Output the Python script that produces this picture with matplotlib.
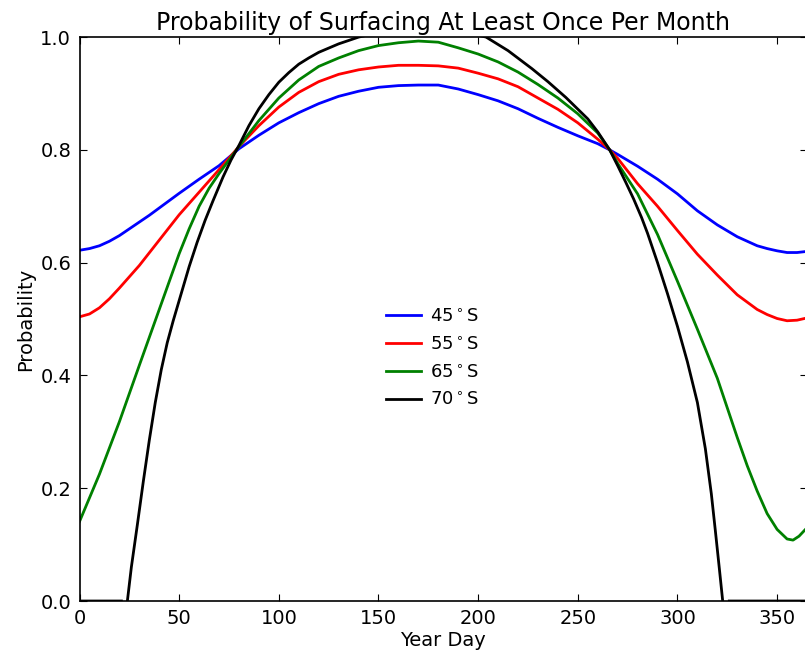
import numpy as np
import matplotlib
matplotlib.use('Agg')
import matplotlib.pyplot as plt

# 45S readings
d45 = [0, 5, 10, 15, 20, 25, 30, 35, 40, 50, 60, 70, 80, 90, 100, 110, 120,
       130, 140, 150, 160, 170, 180, 190, 200, 210, 220, 230, 240, 250, 260,
       266, 270, 280, 290, 300, 310, 320, 330, 340, 345, 350, 355, 360, 365]
p45 = [0.622, 0.625, 0.630, 0.638, 0.648, 0.660, 0.672, 0.684, 0.697, 0.723,
       0.748, 0.772, 0.802, 0.826, 0.848, 0.866, 0.882, 0.895, 0.904, 0.911,
       0.914, 0.915, 0.915, 0.908, 0.898, 0.887, 0.873, 0.856, 0.840, 0.825,
       0.811, 0.800, 0.792, 0.771, 0.748, 0.722, 0.692, 0.667, 0.646, 0.630,
       0.625, 0.621, 0.618, 0.618, 0.620]

# 55S readings
d55 = [0, 5, 10, 15, 20, 25, 30, 40, 50, 60, 70, 80, 90, 100, 110, 120, 130,
       140, 150, 160, 170, 180, 190, 200, 210, 220, 230, 240, 250, 260, 266,
       270, 280, 290, 300, 310, 320, 330, 340, 345, 350, 355, 360, 365]
p55 = [0.504, 0.509, 0.520, 0.536, 0.555, 0.575, 0.595, 0.640, 0.685, 0.725,
       0.765, 0.806, 0.843, 0.876, 0.902, 0.921, 0.934, 0.942, 0.947, 0.950,
       0.950, 0.949, 0.945, 0.936, 0.926, 0.912, 0.892, 0.872, 0.848, 0.819,
       0.800, 0.785, 0.740, 0.700, 0.657, 0.615, 0.578, 0.543, 0.517, 0.508,
       0.501, 0.497, 0.498, 0.502]

# 65S readings
d65 = [0, 10, 20, 30, 40, 50, 55, 60, 65, 70, 75, 80, 90, 100, 110, 120, 130,
       140, 150, 160, 170, 180, 190, 200, 210, 220, 230, 240, 250, 260, 266,
       270, 280, 290, 300, 310, 320, 330, 335, 340, 345, 350, 355, 358, 361, 365]
p65 = [0.141, 0.225, 0.318, 0.418, 0.517, 0.616, 0.660, 0.700, 0.732, 0.758,
       0.782, 0.806, 0.852, 0.892, 0.924, 0.948, 0.963, 0.976, 0.985, 0.990,
       0.993, 0.991, 0.981, 0.970, 0.956, 0.938, 0.916, 0.892, 0.864, 0.830,
       0.800, 0.776, 0.722, 0.650, 0.567, 0.482, 0.395, 0.290, 0.240, 0.195,
       0.155, 0.127, 0.110, 0.108, 0.115, 0.130]

# 70S readings: polar night, with a break in the line either side of it
d70 = [0, 21, 22, 24, 26, 29, 32, 35, 38, 41, 44, 47, 51, 55, 59, 63, 67, 72,
       76, 80, 85, 90, 95, 100, 105, 110, 115, 120, 130, 140, 155, 172, 190,
       204, 215, 227, 235, 244, 255, 260, 266, 270, 274, 278, 282, 285, 290,
       295, 300, 305, 310, 314, 317, 319, 321, 322.7, 324, 326, 365]
p70 = [0, 0, np.nan, 0, 0.06, 0.135, 0.212, 0.285, 0.352, 0.41, 0.458, 0.497,
       0.545, 0.593, 0.636, 0.675, 0.71, 0.752, 0.782, 0.808, 0.843, 0.873,
       0.898, 0.92, 0.937, 0.952, 0.963, 0.973, 0.988, 1.0, 1.012, 1.02, 1.012,
       1.0, 0.976, 0.944, 0.921, 0.893, 0.855, 0.832, 0.8, 0.772, 0.743, 0.713,
       0.680, 0.652, 0.600, 0.545, 0.487, 0.424, 0.352, 0.27, 0.19, 0.125,
       0.058, 0.0, np.nan, 0, 0]

labels = [r'45$^\circ$S', r'55$^\circ$S', r'65$^\circ$S', r'70$^\circ$S']
colors = ['b', 'r', 'g', 'k']

plt.rcParams['font.family'] = 'DejaVu Sans'
plt.rcParams['mathtext.fontset'] = 'dejavusans'

fig = plt.figure(figsize=(8.05, 6.58), dpi=100)
ax = fig.add_axes([0.0988, 0.0866, 0.9037, 0.857])

series = [(d45, p45), (d55, p55), (d65, p65), (d70, p70)]
for (x, y), lab, c in zip(series, labels, colors):
    ax.plot(x, y, color=c, lw=2, label=lab)

ax.set_xlim(0, 365)
ax.set_ylim(0, 1.0)
ax.set_xticks(np.arange(0, 351, 50))
ax.set_yticks(np.arange(0, 1.01, 0.2))
ax.set_yticklabels(['%.1f' % v for v in np.arange(0, 1.01, 0.2)])
ax.tick_params(direction='in', top=True, right=True, length=5, labelsize=14, pad=6)
for s in ax.spines.values():
    s.set_linewidth(1.2)

ax.set_title('Probability of Surfacing At Least Once Per Month', fontsize=17, pad=5)
ax.set_xlabel('Year Day', fontsize=14, labelpad=2)
ax.set_ylabel('Probability', fontsize=14, labelpad=4)

ax.legend(loc='center', bbox_to_anchor=(0.485, 0.43), frameon=False,
          fontsize=13, handlelength=1.9, labelspacing=0.55, handletextpad=0.5)

fig.savefig('out.png', dpi=100)
